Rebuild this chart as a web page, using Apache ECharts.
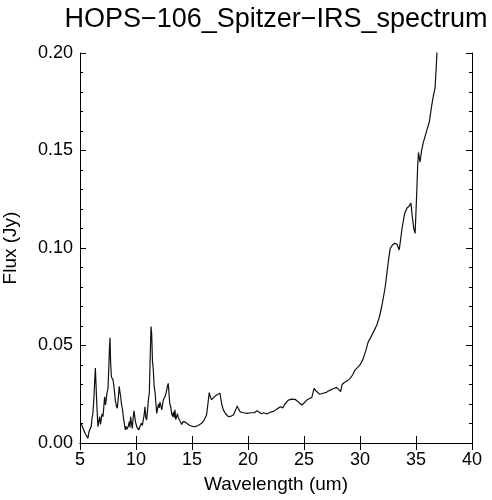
<!DOCTYPE html>
<html>
<head>
<meta charset="utf-8">
<script src="https://cdn.jsdelivr.net/npm/echarts@6/dist/echarts.min.js"></script>
<style>
    html, body { margin: 0; padding: 0; background: #fff; }
    #chart { width: 492px; height: 500px; }
</style>
</head>
<body>
<div id="chart"></div>
<script>
// spectrum
const wavelength = [
    5.12, 5.20, 5.27, 5.35, 5.45, 5.56, 5.70, 5.78, 5.86, 6.00,
    6.07, 6.15, 6.25, 6.32, 6.37, 6.43, 6.50, 6.60, 6.68, 6.76,
    6.83, 6.90, 6.97, 7.05, 7.12, 7.20, 7.28, 7.35, 7.42, 7.50,
    7.58, 7.64, 7.68, 7.73, 7.80, 7.87, 7.95, 8.05, 8.15, 8.25,
    8.33, 8.42, 8.50, 8.57, 8.63, 8.70, 8.80, 8.90, 9.05, 9.12,
    9.20, 9.30, 9.40, 9.46, 9.52, 9.60, 9.67, 9.75, 9.82, 9.88,
    9.95, 10.06, 10.15, 10.24, 10.36, 10.47, 10.57, 10.65, 10.72, 10.80,
    10.88, 10.95, 11.05, 11.12, 11.19, 11.26, 11.34, 11.40, 11.47, 11.54,
    11.62, 11.70, 11.78, 11.85, 11.92, 12.00, 12.07, 12.14, 12.22, 12.30,
    12.38, 12.44, 12.50, 12.60, 12.70, 12.80, 12.88, 12.95, 13.02, 13.10,
    13.18, 13.27, 13.35, 13.42, 13.48, 13.55, 13.63, 13.70, 13.78, 13.87,
    13.95, 14.08, 14.20, 14.38, 14.55, 14.80, 15.05, 15.27, 15.55, 15.86,
    16.10, 16.30, 16.42, 16.54, 16.65, 16.75, 16.90, 17.05, 17.30, 17.50,
    17.65, 17.80, 18.00, 18.24, 18.50, 18.70, 18.90, 19.04, 19.15, 19.30,
    19.60, 19.90, 20.30, 20.60, 20.80, 21.00, 21.20, 21.40, 21.50, 21.70,
    21.90, 22.10, 22.30, 22.60, 22.90, 23.10, 23.30, 23.60, 23.90, 24.20,
    24.50, 24.80, 25.00, 25.25, 25.50, 25.70, 25.90, 26.10, 26.40, 26.70,
    27.00, 27.30, 27.60, 27.90, 28.10, 28.27, 28.40, 28.60, 28.90, 29.10,
    29.35, 29.55, 29.75, 29.90, 30.05, 30.30, 30.55, 30.74, 30.90, 31.04,
    31.25, 31.50, 31.75, 31.94, 32.10, 32.25, 32.40, 32.55, 32.70, 32.90,
    33.10, 33.30, 33.50, 33.62, 33.75, 34.00, 34.20, 34.40, 34.55, 34.65,
    34.80, 34.92, 35.05, 35.15, 35.22, 35.36, 35.50, 35.65, 35.90, 36.05,
    36.20, 36.40, 36.55, 36.70, 36.80, 36.87, 36.95
];
const flux = [
    0.0100, 0.0085, 0.0075, 0.0090, 0.0050, 0.0041, 0.0024, 0.0050, 0.0067, 0.0084,
    0.0127, 0.0150, 0.0237, 0.0330, 0.0385, 0.0300, 0.0200, 0.0084, 0.0110, 0.0135,
    0.0095, 0.0101, 0.0150, 0.0135, 0.0180, 0.0237, 0.0195, 0.0200, 0.0260, 0.0280,
    0.0400, 0.0500, 0.0540, 0.0420, 0.0340, 0.0350, 0.0323, 0.0280, 0.0220, 0.0190,
    0.0178, 0.0230, 0.0290, 0.0260, 0.0240, 0.0200, 0.0170, 0.0120, 0.0067, 0.0085,
    0.0070, 0.0084, 0.0110, 0.0080, 0.0135, 0.0100, 0.0075, 0.0130, 0.0165, 0.0170,
    0.0110, 0.0084, 0.0075, 0.0067, 0.0075, 0.0101, 0.0090, 0.0120, 0.0140, 0.0186,
    0.0130, 0.0118, 0.0180, 0.0230, 0.0255, 0.0420, 0.0597, 0.0560, 0.0420, 0.0380,
    0.0290, 0.0260, 0.0200, 0.0152, 0.0160, 0.0200, 0.0180, 0.0210, 0.0190, 0.0170,
    0.0200, 0.0220, 0.0215, 0.0240, 0.0260, 0.0290, 0.0306, 0.0250, 0.0200, 0.0186,
    0.0150, 0.0135, 0.0160, 0.0130, 0.0170, 0.0120, 0.0118, 0.0150, 0.0130, 0.0135,
    0.0110, 0.0095, 0.0110, 0.0108, 0.0098, 0.0090, 0.0085, 0.0084, 0.0090, 0.0101,
    0.0120, 0.0144, 0.0200, 0.0258, 0.0235, 0.0222, 0.0232, 0.0240, 0.0250, 0.0255,
    0.0200, 0.0170, 0.0150, 0.0135, 0.0138, 0.0144, 0.0170, 0.0190, 0.0175, 0.0160,
    0.0155, 0.0152, 0.0155, 0.0156, 0.0165, 0.0158, 0.0150, 0.0155, 0.0148, 0.0149,
    0.0155, 0.0160, 0.0163, 0.0175, 0.0186, 0.0180, 0.0200, 0.0220, 0.0225, 0.0224,
    0.0210, 0.0195, 0.0205, 0.0220, 0.0228, 0.0234, 0.0280, 0.0265, 0.0250, 0.0255,
    0.0260, 0.0270, 0.0278, 0.0285, 0.0275, 0.0263, 0.0300, 0.0310, 0.0320, 0.0330,
    0.0350, 0.0374, 0.0385, 0.0383, 0.0405, 0.0434, 0.0480, 0.0520, 0.0535, 0.0545,
    0.0575, 0.0605, 0.0650, 0.0700, 0.0750, 0.0800, 0.0870, 0.0940, 0.0998, 0.1015,
    0.1024, 0.1020, 0.0990, 0.1040, 0.1100, 0.1180, 0.1205, 0.1215, 0.1230, 0.1170,
    0.1100, 0.1075, 0.1260, 0.1420, 0.1490, 0.1440, 0.1500, 0.1540, 0.1590, 0.1620,
    0.1650, 0.1730, 0.1780, 0.1820, 0.1920, 0.2000, 0.2100
];

let chart = echarts.init(document.getElementById('chart'), null, {renderer: 'canvas'});
let font = 'Liberation Sans';
let ink = '#000';

let points = wavelength.map(function (w, i) {
    return [w, flux[i]];
});

let tickText = {color: ink, fontFamily: font, fontSize: 18};

let option = {
    backgroundColor: '#fff',
    animation: false,
    title: {
        text: 'HOPS\u2212106_Spitzer\u2212IRS_spectrum',
        left: 271,
        top: 1,
        textAlign: 'center',
        textStyle: {color: ink, fontFamily: font, fontSize: 27, fontWeight: 'normal'}
    },
    grid: {left: 80, right: 20, top: 53, bottom: 57, outerBoundsMode: 'none', containLabel: false},
    xAxis: [{
        type: 'value',
        min: 5,
        max: 40,
        interval: 5,
        name: 'Wavelength (um)',
        nameLocation: 'middle',
        nameGap: 32,
        nameTextStyle: {color: ink, fontFamily: font, fontSize: 19},
        axisLine: {lineStyle: {color: ink, width: 1}},
        axisTick: {inside: true, length: 7, lineStyle: {color: ink}},
        axisLabel: Object.assign({margin: 8}, tickText),
        splitLine: {show: false}
    }, {
        type: 'value',
        position: 'top',
        min: 5,
        max: 40,
        interval: 5,
        axisLine: {lineStyle: {color: ink, width: 1}},
        axisTick: {inside: true, length: 7, lineStyle: {color: ink}},
        axisLabel: {show: false},
        splitLine: {show: false}
    }],
    yAxis: [{
        type: 'value',
        min: 0,
        max: 0.2,
        interval: 0.05,
        name: 'Flux (Jy)',
        nameLocation: 'middle',
        nameGap: 60,
        nameTextStyle: {color: ink, fontFamily: font, fontSize: 19},
        axisLine: {show: true, lineStyle: {color: ink, width: 1}},
        axisTick: {show: true, inside: true, length: 6, lineStyle: {color: ink}},
        minorTick: {show: true, splitNumber: 5, length: 3, lineStyle: {color: ink}},
        axisLabel: Object.assign({
            margin: 7,
            formatter: function (v) { return v.toFixed(2); }
        }, tickText),
        splitLine: {show: false}
    }, {
        type: 'value',
        position: 'right',
        min: 0,
        max: 0.2,
        interval: 0.05,
        axisLine: {show: true, lineStyle: {color: ink, width: 1}},
        axisTick: {show: true, inside: true, length: 6, lineStyle: {color: ink}},
        minorTick: {show: true, splitNumber: 5, length: 3, lineStyle: {color: ink}},
        axisLabel: {show: false},
        splitLine: {show: false}
    }],
    series: [{
        type: 'line',
        data: points,
        xAxisIndex: 0,
        yAxisIndex: 0,
        showSymbol: false,
        clip: true,
        lineStyle: {color: '#111', width: 1.2}
    }]
};

chart.setOption(option);
</script>
</body>
</html>
